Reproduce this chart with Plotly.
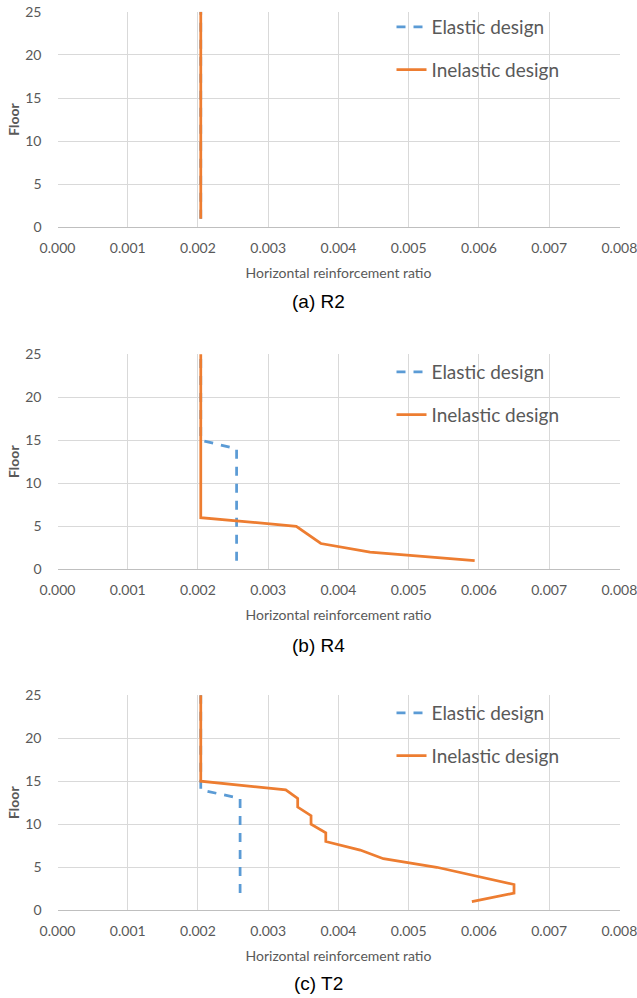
import plotly.graph_objects as go

# ---------------- data ----------------
floors = list(range(1, 26))

# (a) R2
r2_elastic = [0.00204] * 25
r2_inelastic = [0.00204] * 25

# (b) R4
r4_elastic = [0.00255, 0.00255, 0.00255, 0.00255, 0.00255, 0.00255, 0.00255,
              0.00255, 0.00255, 0.00255, 0.00255, 0.00255, 0.00255, 0.00255,
              0.00204, 0.00204, 0.00204, 0.00204, 0.00204, 0.00204, 0.00204,
              0.00204, 0.00204, 0.00204, 0.00204]
r4_inelastic = [0.00594, 0.00445, 0.00375, 0.00358, 0.00340, 0.00204, 0.00204,
                0.00204, 0.00204, 0.00204, 0.00204, 0.00204, 0.00204, 0.00204,
                0.00204, 0.00204, 0.00204, 0.00204, 0.00204, 0.00204, 0.00204,
                0.00204, 0.00204, 0.00204, 0.00204]

# (c) T2
t2_elastic = [None, 0.00260, 0.00260, 0.00260, 0.00260, 0.00260, 0.00260,
              0.00260, 0.00260, 0.00260, 0.00260, 0.00260, 0.00260, 0.00204,
              0.00204, 0.00204, 0.00204, 0.00204, 0.00204, 0.00204, 0.00204,
              0.00204, 0.00204, 0.00204, 0.00204]
t2_inelastic = [0.00590, 0.00650, 0.00650, 0.00595, 0.00540, 0.00464, 0.00431,
                0.00382, 0.00382, 0.00361, 0.00361, 0.00342, 0.00342, 0.00325,
                0.00204, 0.00204, 0.00204, 0.00204, 0.00204, 0.00204, 0.00204,
                0.00204, 0.00204, 0.00204, 0.00204]

captions = ["(a) R2", "(b) R4", "(c) T2"]
series_names = ["Elastic design", "Inelastic design"]
x_ticks = [0.000, 0.001, 0.002, 0.003, 0.004, 0.005, 0.006, 0.007, 0.008]
y_ticks = [0, 5, 10, 15, 20, 25]

# ---------------- layout geometry (page pixels) ----------------
W, H = 637, 998
PLOT_LEFT, PLOT_RIGHT = 57.5, 619.5
panel_tops = [11.7, 354.0, 695.0]
panel_bottoms = [227.3, 569.3, 910.3]
caption_y = [302, 645, 983]
legend_top = [8, 353, 694]
LEGEND_X = 391.5

BLUE = "#5B9BD5"
ORANGE = "#ED7D31"
GRID = "#D9D9D9"
TXT = "#595959"
FONT = "Lato"


def px(p):
    return p / W


def py(p):
    return 1 - p / H


fig = go.Figure()
data = [(r2_elastic, r2_inelastic), (r4_elastic, r4_inelastic), (t2_elastic, t2_inelastic)]

for i, (el, inel) in enumerate(data):
    sfx = "" if i == 0 else str(i + 1)
    leg = "legend" if i == 0 else "legend" + str(i + 1)
    fig.add_trace(go.Scatter(
        x=el, y=floors, mode="lines", name=series_names[0],
        line=dict(color=BLUE, width=2.75, dash="9px,8px"),
        xaxis="x" + sfx, yaxis="y" + sfx, legend=leg,
        legendgroup="e" + str(i), connectgaps=False))
    fig.add_trace(go.Scatter(
        x=inel, y=floors, mode="lines", name=series_names[1],
        line=dict(color=ORANGE, width=2.75),
        xaxis="x" + sfx, yaxis="y" + sfx, legend=leg,
        legendgroup="i" + str(i)))

layout = dict(
    width=W, height=H,
    margin=dict(l=0, r=0, t=0, b=0, autoexpand=False),
    paper_bgcolor="white", plot_bgcolor="white",
    showlegend=True,
    font=dict(family=FONT, color=TXT),
    annotations=[],
)

for i in range(3):
    sfx = "" if i == 0 else str(i + 1)
    xa = dict(
        domain=[px(PLOT_LEFT), px(PLOT_RIGHT)],
        anchor="y" + sfx, automargin=False,
        range=[0, 0.008002], tickmode="array", tickvals=x_ticks,
        ticktext=["%.3f" % v for v in x_ticks],
        showgrid=True, gridcolor=GRID, gridwidth=1,
        zeroline=False, showline=True, linecolor="#BFBFBF", linewidth=1,
        ticks="", ticklabelstandoff=8, ticklabeloverflow="allow",
        tickfont=dict(family=FONT, size=14, color=TXT),
        title=dict(text="Horizontal reinforcement ratio",
                   font=dict(family=FONT, size=14, color=TXT), standoff=13),
        fixedrange=True,
    )
    ya = dict(
        domain=[py(panel_bottoms[i]), py(panel_tops[i])],
        anchor="x" + sfx, automargin=False,
        range=[0, 25.02], tickmode="array", tickvals=y_ticks,
        showgrid=True, gridcolor=GRID, gridwidth=1,
        zeroline=False, showline=False,
        ticks="", ticklabelstandoff=15, ticklabeloverflow="allow",
        tickfont=dict(family=FONT, size=14, color=TXT),
        title=dict(text="<b>Floor</b>",
                   font=dict(family=FONT, size=14, color=TXT), standoff=2),
        fixedrange=True,
    )
    layout["xaxis" + sfx] = xa
    layout["yaxis" + sfx] = ya
    leg = "legend" if i == 0 else "legend" + str(i + 1)
    layout[leg] = dict(
        x=px(LEGEND_X), xanchor="left",
        y=py(legend_top[i]), yanchor="top",
        bgcolor="rgba(0,0,0,0)", borderwidth=0,
        font=dict(family=FONT, size=19, color=TXT),
        tracegroupgap=15, traceorder="grouped",
    )
    layout["annotations"].append(dict(
        text=captions[i], x=px(W / 2), xref="paper", xanchor="center",
        y=py(caption_y[i]), yref="paper", yanchor="middle",
        showarrow=False,
        font=dict(family="Liberation Sans, Arial", size=19, color="black"),
    ))

fig.update_layout(**layout)
fig.write_html("out.html",
               config={"displayModeBar": False},
               post_script="document.body.style.margin='0';document.body.style.overflow='hidden';")
